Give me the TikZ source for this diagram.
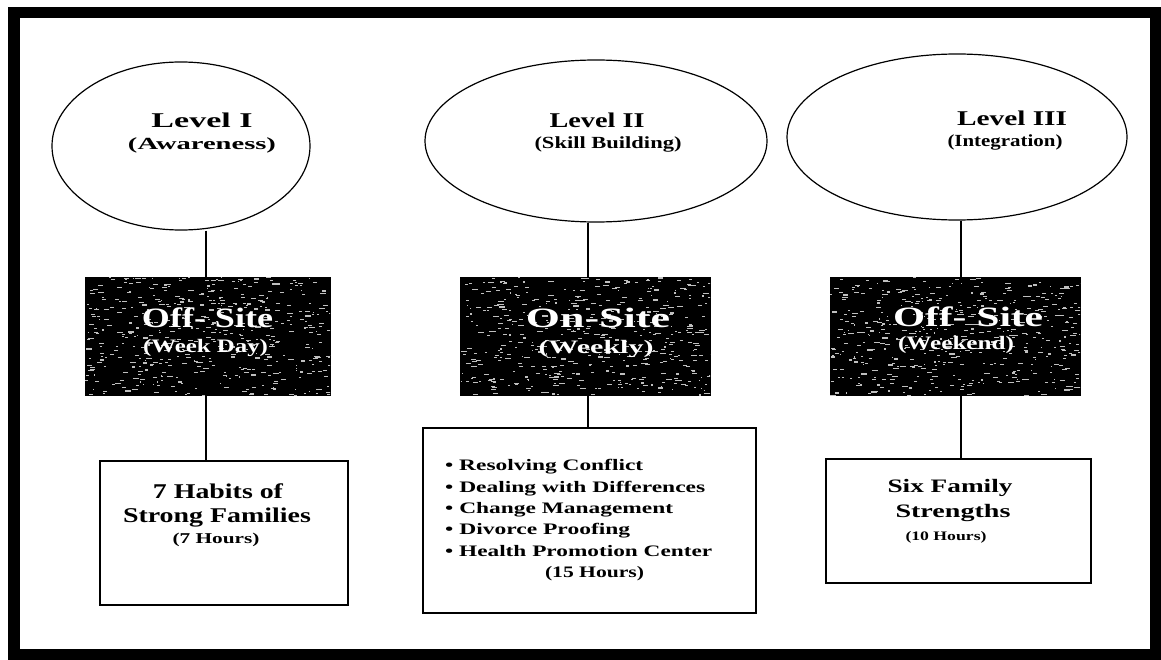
\documentclass[tikz,border=0pt]{standalone}
\usepackage{fontspec}
\usepackage{graphicx}
\setmainfont{Liberation Serif}
\usetikzlibrary{shapes.geometric}

% one line of wide bold text: name, position, width, font size, text
\newcommand{\wline}[6][base]{%
  \node[anchor=#1, inner sep=0pt, font=\bfseries] (#2) at (#3)
    {\resizebox{#4}{\height}{\fontsize{#5}{#5}\selectfont\bfseries #6}};}

% light flecks on the dark panels
\newcommand{\grain}[4]{%
  \begin{scope}
    \clip (#1,#2) rectangle ++(#3,#4);
    \foreach \k in {1,...,480}{%
      \pgfmathsetmacro{\gx}{#1+rnd*#3}%
      \pgfmathsetmacro{\gy}{#2+rnd*#4}%
      \pgfmathsetmacro{\gl}{1+rnd*5}%
      \fill[flecks] (\gx,\gy) rectangle ++(\gl,1.1);
    }
  \end{scope}}

\tikzset{
  level/.style={ellipse, draw, line width=1.2pt, inner sep=0pt},
  panel/.style={rectangle, draw, fill=black, line width=1pt, inner sep=0pt},
  topic/.style={rectangle, draw, fill=white, line width=1.4pt, inner sep=0pt},
  link/.style={line width=1.3pt},
  flecks/.style={fill=gray!50},
}

\begin{document}
\begin{tikzpicture}[x=1pt, y=-1pt]
\pgfmathsetseed{11}
\useasboundingbox (0,0) rectangle (1161,660);
\fill[white] (0,0) rectangle (1161,660);

% outer frame
\draw[line width=11.5pt] (14,12.5) rectangle (1155.5,654.5);

% level ellipses
\node[level, minimum width=258pt, minimum height=168pt] (E1) at (181,146) {};
\node[level, minimum width=342pt, minimum height=162pt] (E2) at (596,141) {};
\node[level, minimum width=340pt, minimum height=166pt] (E3) at (957,137) {};

\wline{E1a}{202,128}{101pt}{21}{Level I}
\wline{E1b}{202,150}{148pt}{17}{(Awareness)}
\wline{E2a}{597,128}{95pt}{21}{Level II}
\wline{E2b}{608,149}{147pt}{17}{(Skill Building)}
\wline{E3a}{1012,126}{110pt}{21}{Level III}
\wline{E3b}{1005,147}{115pt}{17}{(Integration)}

% dark panels
\node[panel, minimum width=245pt, minimum height=118pt] (D1) at (207.5,336) {};
\node[panel, minimum width=250pt, minimum height=118pt] (D2) at (585,336) {};
\node[panel, minimum width=250pt, minimum height=118pt] (D3) at (955,336) {};
\grain{85}{277}{245}{118}
\grain{460}{277}{250}{118}
\grain{830}{277}{250}{118}

\begin{scope}[every node/.append style={text=white}]
\wline{D1a}{207.5,327}{131pt}{28}{Off- Site}
\wline{D1b}{205.5,352}{125pt}{19}{(Week Day)}
\wline{D2a}{598,327}{144pt}{28}{On-Site}
\wline{D2b}{596,353}{115pt}{19}{(Weekly)}
\wline{D3a}{968,326}{150pt}{28}{Off- Site}
\wline{D3b}{956,349}{116pt}{19}{(Weekend)}
\end{scope}

% topic boxes
\node[topic, minimum width=248pt, minimum height=144pt] (B1) at (224,533) {};
\node[topic, minimum width=333pt, minimum height=185pt] (B2) at (589.5,520.5) {};
\node[topic, minimum width=265pt, minimum height=124pt] (B3) at (958.5,521) {};

\wline{B1a}{218,498}{130pt}{21}{7 Habits of}
\wline{B1b}{217,522}{188pt}{21}{Strong Families}
\wline{B1c}{216,543}{87pt}{15}{(7 Hours)}

\wline[base west]{B2a}{445,470}{198pt}{16}{• Resolving Conflict}
\wline[base west]{B2b}{445,492}{260pt}{16}{• Dealing with Differences}
\wline[base west]{B2c}{445,513}{228pt}{16}{• Change Management}
\wline[base west]{B2d}{445,534}{185pt}{16}{• Divorce Proofing}
\wline[base west]{B2e}{445,556}{267pt}{16}{• Health Promotion Center}
\wline{B2f}{594.5,577}{99pt}{16}{(15 Hours)}

\wline{B3a}{950,492}{125pt}{19}{Six Family}
\wline{B3b}{953,517}{115pt}{19}{Strengths}
\wline{B3c}{946,540}{81pt}{13}{(10 Hours)}

% connectors
\coordinate (c1) at (206,0);
\coordinate (c2) at (588,0);
\coordinate (c3) at (961,0);
\draw[link] (c1 |- E1.south) -- (c1 |- D1.north);
\draw[link] (c1 |- D1.south) -- (c1 |- B1.north);
\draw[link] (c2 |- E2.south) -- (c2 |- D2.north);
\draw[link] (c2 |- D2.south) -- (c2 |- B2.north);
\draw[link] (c3 |- E3.south) -- (c3 |- D3.north);
\draw[link] (c3 |- D3.south) -- (c3 |- B3.north);
\end{tikzpicture}
\end{document}
